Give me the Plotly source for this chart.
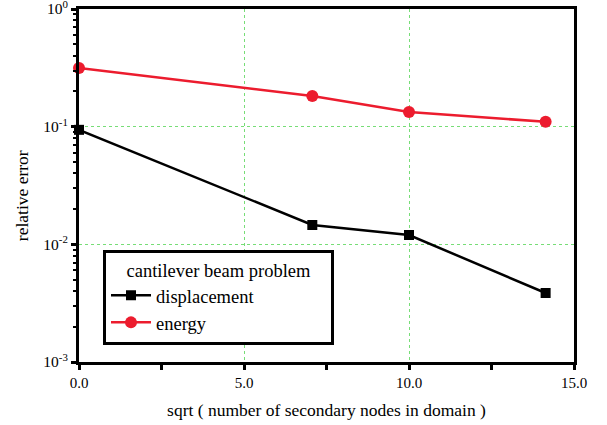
import plotly.graph_objects as go

x_vals = [0.0, 7.07, 10.0, 14.14]
displacement = [0.094, 0.0146, 0.0120, 0.00386]
energy = [0.315, 0.182, 0.133, 0.110]

y_tickvals = [1e-3, 1e-2, 1e-1, 1e0]
y_ticktext = ["10<sup>-3</sup>", "10<sup>-2</sup>", "10<sup>-1</sup>", "10<sup>0</sup>"]
y_minorvals = [m * 10.0 ** e for e in (-3, -2, -1) for m in range(2, 10)]
x_tickvals = [0, 5, 10, 15]
x_ticktext = ["0.0", "5.0", "10.0", "15.0"]
x_minorvals = [2.5, 7.5, 12.5]

FF = "Liberation Serif, Times New Roman, serif"
NB = "\u00a0"

fig = go.Figure()
fig.add_trace(go.Scatter(
    x=x_vals, y=displacement, mode="lines+markers", name="displacement",
    line=dict(color="black", width=2.5),
    marker=dict(symbol="square", size=10, color="black"),
    cliponaxis=False,
))
fig.add_trace(go.Scatter(
    x=x_vals, y=energy, mode="lines+markers", name="energy",
    line=dict(color="#ec1c2e", width=2.5),
    marker=dict(symbol="circle", size=12, color="#ec1c2e"),
    cliponaxis=False,
))

fig.update_layout(
    width=607, height=425,
    margin=dict(l=79, r=33, t=9, b=63),
    paper_bgcolor="white", plot_bgcolor="white",
    font=dict(family=FF, size=16, color="black"),
    showlegend=True,
    legend=dict(
        title=dict(text=NB * 4 + "cantilever beam problem" + NB * 4,
                   font=dict(family=FF, size=18.5, color="black")),
        x=0.0485, y=0.318, xanchor="left", yanchor="top",
        bordercolor="black", borderwidth=3, bgcolor="white",
        font=dict(family=FF, size=18.5, color="black"), tracegroupgap=0, itemwidth=40,
    ),
    annotations=[dict(
        text="relative error", textangle=-90, showarrow=False,
        xref="paper", yref="paper", x=-0.115, y=0.47,
        xanchor="center", yanchor="middle",
        font=dict(family=FF, size=17.5, color="black"),
    )],
)

grid_color = "#77dd77"
fig.update_xaxes(
    range=[0, 15], tickvals=x_tickvals, ticktext=x_ticktext,
    showline=True, linecolor="black", linewidth=3, mirror=True,
    ticks="outside", ticklen=5, tickwidth=3, tickcolor="black",
    minor=dict(tickvals=x_minorvals, ticks="outside", ticklen=5, tickwidth=3, tickcolor="black", showgrid=False),
    showgrid=True, gridcolor=grid_color, griddash="dot", gridwidth=1,
    zeroline=False, automargin=False, ticklabeloverflow="allow",
    title=dict(text="sqrt ( number of secondary nodes in domain )", font=dict(family=FF, size=17.5), standoff=14),
    tickfont=dict(family=FF, size=15),
)
fig.update_yaxes(
    type="log", range=[-3, 0], tickvals=y_tickvals, ticktext=y_ticktext,
    showline=True, linecolor="black", linewidth=3, mirror=True,
    ticks="outside", ticklen=5, tickwidth=3, tickcolor="black",
    minor=dict(tickvals=y_minorvals, ticks="outside", ticklen=3, tickwidth=2, tickcolor="black", showgrid=False),
    showgrid=True, gridcolor=grid_color, griddash="dot", gridwidth=1,
    zeroline=False, automargin=False, ticklabeloverflow="allow",
    tickfont=dict(family=FF, size=15.5),
)

fig.write_html("out.html", config={"displayModeBar": False},
               post_script="document.body.style.margin='0';document.body.style.overflow='hidden';")
